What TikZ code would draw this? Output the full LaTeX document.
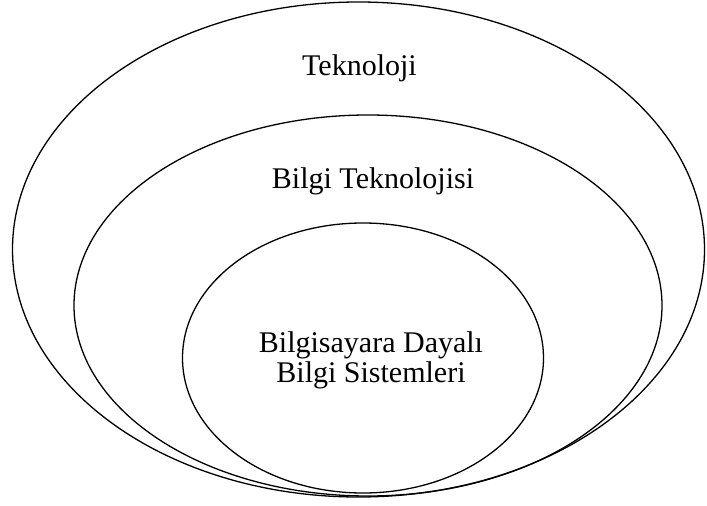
\documentclass[tikz,border=0pt]{standalone}
\usepackage{fontspec}
\setmainfont{Liberation Serif}
\begin{document}
\begin{tikzpicture}[x=1pt,y=-1pt,
  ring/.style={draw=black,line width=1.3pt},
  label/.style={font=\fontsize{30}{30}\selectfont,align=center,inner sep=0pt}]
\useasboundingbox (0,0) rectangle (707,506);
% nested sets, all resting on the same bottom line
\draw[ring] (358.5,249.5) ellipse [x radius=346,y radius=247.5];
\draw[ring] (368,305.5) ellipse [x radius=294,y radius=190.5];
\draw[ring] (363,358) ellipse [x radius=180.5,y radius=135];
% set names (the base anchor of a two-line node sits on its last line)
\node[label,anchor=base] (tek) at (359.5,75) {Teknoloji};
\node[label,anchor=base] (bt) at (373,188) {Bilgi Teknolojisi};
\node[label,anchor=base] (dbs) at (371,382) {Bilgisayara Dayalı\\Bilgi Sistemleri};
\end{tikzpicture}
\end{document}
